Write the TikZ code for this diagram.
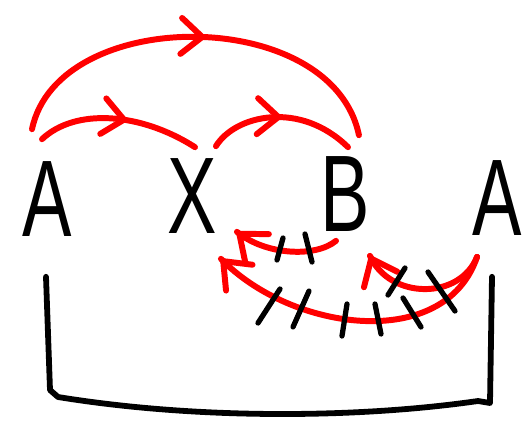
\documentclass[tikz,border=0pt]{standalone}
\usepackage{fontspec}
\setmainfont{Liberation Sans}
\usetikzlibrary{arrows.meta,decorations.markings}

\tikzset{
  letter/.style={inner sep=0pt, font=\fontsize{62}{62}\selectfont, xscale=0.68, transform shape},
  redarc/.style={red, line width=3.4pt, line cap=round},
  midtip/.style={postaction={decorate}, decoration={markings,
      mark=at position #1 with {\arrow{Straight Barb[round,length=0.42cm,width=0.72cm]}}}},
  endtip/.style={postaction={decorate}, decoration={markings,
      mark=at position 0.999 with {\arrow{Straight Barb[round,length=0.46cm,width=0.74cm]}}}},
  tick/.style={line width=3pt, line cap=round},
  bracket/.style={line width=3.3pt, line cap=round, line join=round}
}

\begin{document}
\begin{tikzpicture}[x=0.02cm, y=-0.02cm]
  \useasboundingbox (0,0) rectangle (531,426);

  \node (A1) [letter] at (47,199) {A};
  \node (X) [letter] at (192,196) {X};
  \node (B) [letter] at (345,194) {B};
  \node (A2) [letter] at (497,198) {A};

  % forward arcs
  \draw[redarc, midtip=0.55] ([shift={(-5,-22)}]A1.north) .. controls (75,108) and (140,112) .. ([shift={(3,-11)}]X.north);
  \draw[redarc, midtip=0.5] ([shift={(-1,-12)}]X.north east) .. controls (235,115) and (300,100) .. ([shift={(3,-9)}]B.north);
  \draw[redarc, midtip=0.52] ([shift={(-15,-32)}]A1.north) .. controls (58,5) and (332,5) .. ([shift={(-11,-21)}]B.north east);

  % backward arcs
  \draw[redarc, endtip] ([shift={(-9,9)}]B.south) .. controls (315,258) and (265,255) .. ([shift={(20,-2)}]X.south east);
  \draw[redarc, endtip] ([shift={(5,21)}]A2.south west) .. controls (445,352) and (292,332) .. ([shift={(4,25)}]X.south east);
  \draw[redarc, endtip] ([shift={(5,21)}]A2.south west) .. controls (460,300) and (390,300) .. ([shift={(0,24)}]B.south east);

  % tick marks
  \foreach \xa/\ya/\xb/\yb in {283/238/277/260, 305/234/312/262,
      280/289/258/323, 309/291/293/327, 347/304/342/336, 375/304/381/334, 403/298/421/327,
      405/268/388/295, 428/272/455/311}
    \draw[tick] (\xa,\ya) -- (\xb,\yb);

  % bracket
  \draw[bracket] ([shift={(-1,40)}]A1.south) -- (50,390) -- (58,397)
    .. controls (200,420) and (360,418) .. (478,401) -- (490,403) -- ([shift={(-5,41)}]A2.south);
\end{tikzpicture}
\end{document}
